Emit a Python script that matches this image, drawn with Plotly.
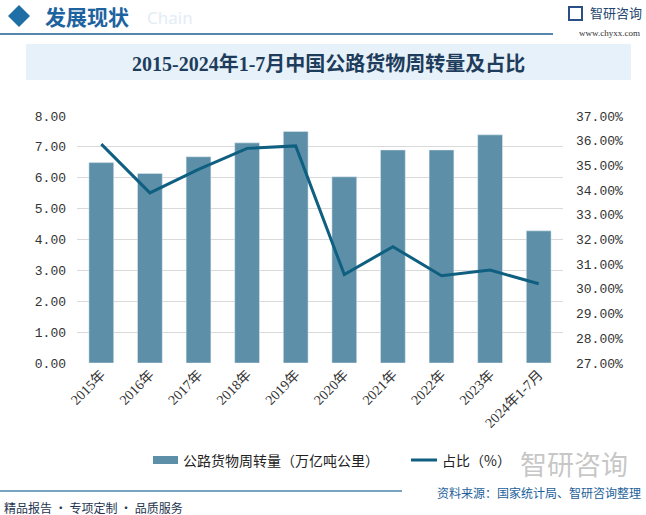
import plotly.graph_objects as go

categories = ["2015年", "2016年", "2017年", "2018年", "2019年", "2020年", "2021年", "2022年", "2023年", "2024年1-7月"]
freight_turnover = [6.49, 6.14, 6.68, 7.13, 7.50, 6.03, 6.90, 6.90, 7.39, 4.28]
share_pct = [35.86, 33.89, 34.84, 35.69, 35.79, 30.58, 31.71, 30.53, 30.76, 30.21]

W, H = 646, 515
L, R, T, B = 77, 563, 116, 363

def px(x):
    return (x - L) / (R - L)

def py(y):
    return (B - y) / (B - T)

SERIF = "Liberation Serif, Noto Sans CJK SC"
MONO = "Liberation Mono, Noto Sans CJK SC"
SANS = "Noto Sans CJK SC, Noto Sans"

fig = go.Figure()
fig.add_trace(go.Bar(x=categories, y=freight_turnover, marker_color="#5d90a8",
                     name="公路货物周转量（万亿吨公里）", yaxis="y"))
fig.add_trace(go.Scatter(x=categories, y=share_pct, mode="lines",
                         line=dict(color="#0f5f80", width=3), name="占比（%）", yaxis="y2"))

shapes = []
annotations = []

# header
shapes.append(dict(type="path", xref="paper", yref="paper",
                   path=f"M {px(8)} {py(16)} L {px(19)} {py(5)} L {px(30)} {py(16)} L {px(19)} {py(27)} Z",
                   fillcolor="#1f6ea6", line=dict(width=0)))
annotations.append(dict(text="Chain", x=px(145), y=py(17), xref="paper", yref="paper",
                        xanchor="left", yanchor="middle", showarrow=False,
                        font=dict(family="Noto Sans", size=17, color="#e3edf5")))
annotations.append(dict(text="<b>发展现状</b>", x=px(43), y=py(16), xref="paper", yref="paper",
                        xanchor="left", yanchor="middle", showarrow=False,
                        font=dict(family=SANS, size=21, color="#1d63a0")))
shapes.append(dict(type="line", xref="paper", yref="paper", x0=px(0), x1=px(553), y0=py(34), y1=py(34),
                   line=dict(color="#1d5f8f", width=1.5)))
# logo
shapes.append(dict(type="rect", xref="paper", yref="paper", x0=px(569), x1=px(582), y0=py(20), y1=py(7),
                   fillcolor="rgba(0,0,0,0)", line=dict(color="#2a4f86", width=2)))
annotations.append(dict(text="智研咨询", x=px(588), y=py(13), xref="paper", yref="paper",
                        xanchor="left", yanchor="middle", showarrow=False,
                        font=dict(family=SANS, size=13, color="#24466f")))
annotations.append(dict(text="www.chyxx.com", x=px(642), y=py(33), xref="paper", yref="paper",
                        xanchor="right", yanchor="middle", showarrow=False,
                        font=dict(family=SERIF, size=9, color="#333333")))

# title banner
shapes.append(dict(type="rect", xref="paper", yref="paper", x0=px(26), x1=px(631), y0=py(44), y1=py(80),
                   fillcolor="#e7f1f9", line=dict(width=0), layer="below"))
annotations.append(dict(text="<b>2015-2024年1-7月中国公路货物周转量及占比</b>", x=px(328), y=py(63),
                        xref="paper", yref="paper", xanchor="center", yanchor="middle", showarrow=False,
                        font=dict(family=SERIF, size=20, color="#1e3d5c")))

# legend
shapes.append(dict(type="rect", xref="paper", yref="paper", x0=px(153), x1=px(178), y0=py(456), y1=py(464),
                   fillcolor="#5d90a8", line=dict(width=0)))
annotations.append(dict(text="公路货物周转量（万亿吨公里）", x=px(181), y=py(460), xref="paper", yref="paper",
                        xanchor="left", yanchor="middle", showarrow=False,
                        font=dict(family=SANS, size=14, color="#222222")))
shapes.append(dict(type="line", xref="paper", yref="paper", x0=px(411), x1=px(437), y0=py(460), y1=py(460),
                   line=dict(color="#0f5f80", width=3)))
annotations.append(dict(text="占比（%）", x=px(440), y=py(460), xref="paper", yref="paper",
                        xanchor="left", yanchor="middle", showarrow=False,
                        font=dict(family=SANS, size=14, color="#222222")))
# brand text
annotations.append(dict(text="智研咨询", x=px(630), y=py(463), xref="paper", yref="paper",
                        xanchor="right", yanchor="middle", showarrow=False,
                        font=dict(family=SANS, size=27, color="rgba(150,150,150,0.55)")))

# footer
shapes.append(dict(type="line", xref="paper", yref="paper", x0=px(0), x1=px(402), y0=py(491), y1=py(491),
                   line=dict(color="#4d86ad", width=1.5)))
annotations.append(dict(text="资料来源：国家统计局、智研咨询整理", x=px(643), y=py(492), xref="paper", yref="paper",
                        xanchor="right", yanchor="middle", showarrow=False,
                        font=dict(family=SANS, size=12, color="#1d5f9a")))
annotations.append(dict(text="精品报告 · 专项定制 · 品质服务", x=px(2), y=py(507), xref="paper", yref="paper",
                        xanchor="left", yanchor="middle", showarrow=False,
                        font=dict(family=SANS, size=12, color="#1e3550")))

fig.update_layout(
    width=W, height=H,
    margin=dict(l=L, r=W - R, t=T, b=H - B, pad=0),
    paper_bgcolor="white", plot_bgcolor="white",
    showlegend=False,
    bargap=0.49,
    xaxis=dict(type="category", tickangle=-45, showgrid=False, showline=False, ticks="",
               tickfont=dict(family=SERIF, size=14, color="#333333")),
    yaxis=dict(range=[0, 8], dtick=1, tickformat=".2f", showgrid=True, gridcolor="#d9d9d9", gridwidth=1,
               zeroline=False, showline=False, ticks="", ticklabelstandoff=10,
               tickfont=dict(family=MONO, size=13, color="#333333")),
    yaxis2=dict(range=[27, 37], dtick=1, tickformat=".2f", ticksuffix="%", overlaying="y", side="right",
                showgrid=False, zeroline=False, showline=False, ticks="", ticklabelstandoff=12,
                tickfont=dict(family=MONO, size=13, color="#333333")),
    shapes=shapes, annotations=annotations,
)

fig.write_html("out.html", config={"displayModeBar": False},
               post_script="document.body.style.margin='0';document.body.style.overflow='hidden';")
